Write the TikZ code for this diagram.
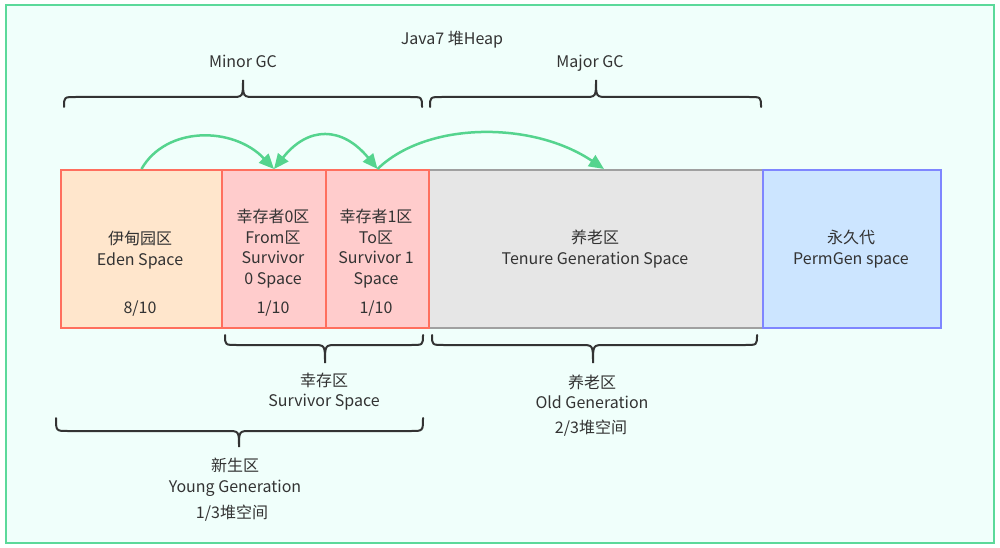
\documentclass[tikz,border=0pt]{standalone}
\usepackage{fontspec}
\setmainfont{Noto Sans CJK SC}
\usetikzlibrary{arrows.meta,calc}
\definecolor{frameg}{HTML}{5BD99A}
\definecolor{framebg}{HTML}{F0FFFB}
\definecolor{redline}{HTML}{FF6F5E}
\definecolor{edenfill}{HTML}{FFE6CC}
\definecolor{survfill}{HTML}{FFCCCC}
\definecolor{tenfill}{HTML}{E6E6E6}
\definecolor{tenline}{HTML}{A0A0A0}
\definecolor{permfill}{HTML}{CCE5FF}
\definecolor{permline}{HTML}{7F86FF}
\definecolor{arrowg}{HTML}{55D48E}
\definecolor{txt}{HTML}{333333}
\newcommand{\hbracepath}[6]{% x1,x2,xc,yend,yh,ytip
  \draw[bracestyle] (#1,#4) .. controls (#1,#5) .. ({#1+12},#5) -- ({#3-12},#5)
    .. controls (#3,#5) .. (#3,#6) .. controls (#3,#5) .. ({#3+12},#5)
    -- ({#2-12},#5) .. controls (#2,#5) .. (#2,#4);}
\begin{document}
\begin{tikzpicture}[x=1pt,y=-1pt,
  every node/.style={text=txt,font=\fontsize{16}{20.5}\selectfont,align=center,inner sep=0pt},
  oneline/.style={text height=12pt,text depth=0.5pt},
  membox/.style={draw,line width=2pt,minimum height=158pt,anchor=north west,inner sep=0pt},
  bracestyle/.style={draw=txt,line width=2pt,line cap=round},
  garrow/.style={draw=arrowg,line width=2.5pt,-{Triangle[length=15pt,width=13pt]}},
  gdarrow/.style={draw=arrowg,line width=2.5pt,{Triangle[length=15pt,width=13pt]}-{Triangle[length=15pt,width=13pt]}}]
\fill[white] (0,0) rectangle (1000,548);
\useasboundingbox (0,0) rectangle (1000,548);
\draw[draw=frameg,fill=framebg,line width=2pt] (6,5) rectangle (994,543);

% memory boxes
\node[membox,draw=tenline,fill=tenfill,minimum width=334pt] (tenure) at (428,169) {};
\node[membox,draw=permline,fill=permfill,minimum width=178pt] (perm) at (762,169) {};
\node[membox,draw=redline,fill=edenfill,minimum width=161pt] (eden) at (60,169) {};
\node[membox,draw=redline,fill=survfill,minimum width=104pt] (from) at (221,169) {};
\node[membox,draw=redline,fill=survfill,minimum width=103pt] (to) at (325,169) {};

% texts in boxes
\node (edent) at (140,250) {伊甸园区\\Eden Space};
\node[oneline] (edenr) at (140,308) {8/10};
\node (fromt) at (273,248.5) {幸存者0区\\From区\\Survivor\\0 Space};
\node[oneline] (fromr) at (273,308) {1/10};
\node (tot) at (376,248.5) {幸存者1区\\To区\\Survivor 1\\Space};
\node[oneline] (tor) at (376,308) {1/10};
\node (tenuret) at (595,249) {养老区\\Tenure Generation Space};
\node (permt) at (851,249) {永久代\\PermGen space};

% titles
\node[oneline] (title) at (452,39) {Java7 堆Heap};
\node[oneline] (minor) at (243,62) {Minor GC};
\node[oneline] (major) at (590,62) {Major GC};

% braces
\hbracepath{64}{422}{243}{107}{97}{80}
\hbracepath{430}{761}{596}{107}{97}{80}
\hbracepath{225}{423}{325}{335}{345}{363}
\hbracepath{432}{757}{593}{335}{345}{363}
\hbracepath{56}{423}{239}{418}{431}{447}

% brace labels
\node (survl) at (324,391.5) {幸存区\\Survivor Space};
\node (oldl) at (592,392) {养老区\\Old Generation};
\node[oneline] (oldr) at (591,428) {2/3堆空间};
\node (youngl) at (235,477) {新生区\\Young Generation};
\node[oneline] (youngr) at (232,513) {1/3堆空间};

% arrows
\draw[garrow] (eden.north) .. controls (166,126) and (233,126) .. (from.north);
\draw[gdarrow] (from.north) .. controls (308,126) and (342,126) .. (to.north);
\draw[garrow] (to.north) .. controls (427,121) and (533,121) .. ($(tenure.north)+(8,0)$);
\end{tikzpicture}
\end{document}
